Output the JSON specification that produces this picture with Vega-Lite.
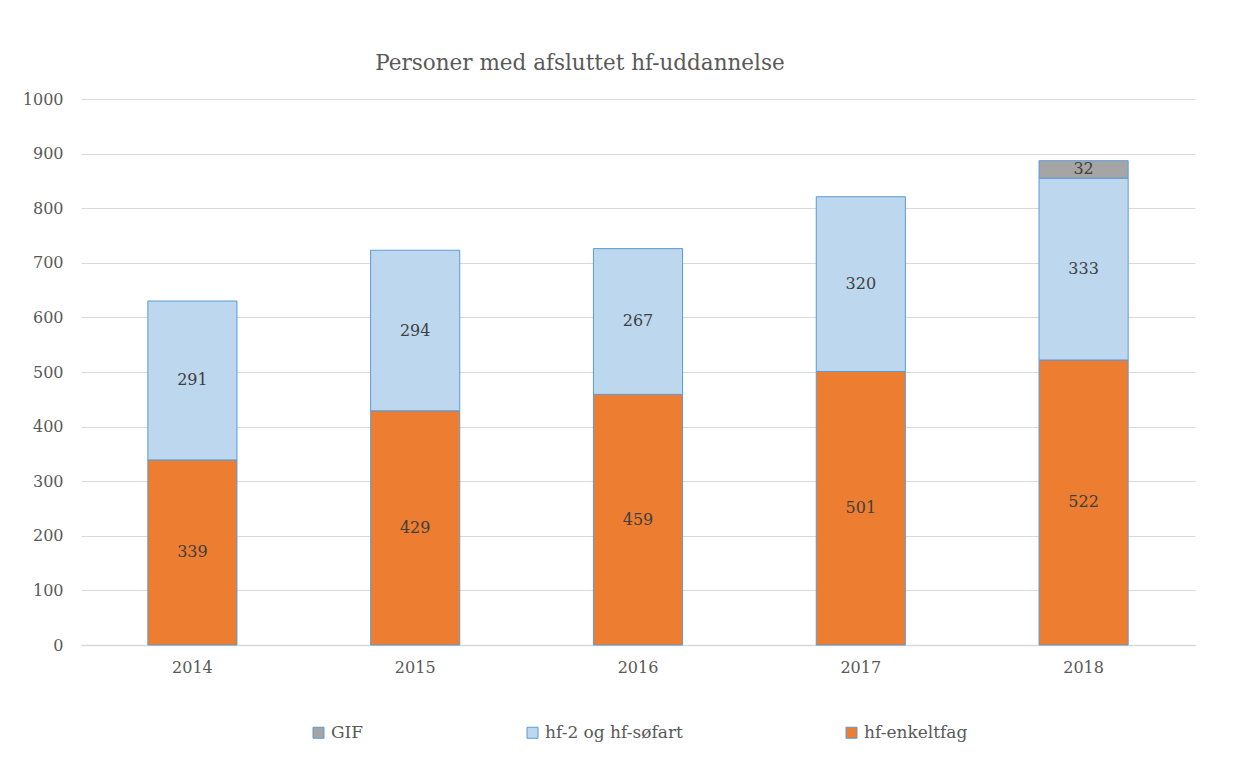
{
  "$schema": "https://vega.github.io/schema/vega-lite/v6.json",
  "autosize": "none",
  "width": 1114,
  "height": 546,
  "padding": {"left": 81, "top": 99, "right": 51, "bottom": 124},
  "background": "white",
  "title": {
    "text": "Personer med afsluttet hf-uddannelse",
    "font": "DejaVu Serif",
    "fontSize": 21.5,
    "fontWeight": "normal",
    "color": "#595959",
    "dx": -58,
    "offset": 17
  },
  "data": {
    "values": [
      {"year": "2014", "series": "hf-enkeltfag", "ord": 1, "value": 339},
      {"year": "2014", "series": "hf-2 og hf-søfart", "ord": 2, "value": 291},
      {"year": "2015", "series": "hf-enkeltfag", "ord": 1, "value": 429},
      {"year": "2015", "series": "hf-2 og hf-søfart", "ord": 2, "value": 294},
      {"year": "2016", "series": "hf-enkeltfag", "ord": 1, "value": 459},
      {"year": "2016", "series": "hf-2 og hf-søfart", "ord": 2, "value": 267},
      {"year": "2017", "series": "hf-enkeltfag", "ord": 1, "value": 501},
      {"year": "2017", "series": "hf-2 og hf-søfart", "ord": 2, "value": 320},
      {"year": "2018", "series": "hf-enkeltfag", "ord": 1, "value": 522},
      {"year": "2018", "series": "hf-2 og hf-søfart", "ord": 2, "value": 333},
      {"year": "2018", "series": "GIF", "ord": 3, "value": 32}
    ]
  },
  "transform": [
    {"stack": "value", "groupby": ["year"], "sort": [{"field": "ord", "order": "ascending"}], "as": ["v0", "v1"]},
    {"calculate": "(datum.v0 + datum.v1) / 2", "as": "mid"}
  ],
  "encoding": {
    "x": {
      "field": "year",
      "type": "nominal",
      "scale": {"paddingInner": 0.6, "paddingOuter": 0.3},
      "axis": {
        "title": null,
        "labelAngle": 0,
        "labelFont": "DejaVu Serif",
        "labelFontSize": 16,
        "labelColor": "#595959",
        "labelPadding": 14,
        "ticks": false,
        "domainColor": "#d9d9d9",
        "domainWidth": 1.5
      }
    }
  },
  "layer": [
    {
      "mark": {"type": "bar", "stroke": "#5B9BD5", "strokeWidth": 1},
      "encoding": {
        "y": {
          "field": "v1",
          "type": "quantitative",
          "scale": {"domain": [0, 1000]},
          "axis": {
            "title": null,
            "format": "d",
            "values": [0, 100, 200, 300, 400, 500, 600, 700, 800, 900, 1000],
            "labelFont": "DejaVu Serif",
            "labelFontSize": 16,
            "labelColor": "#595959",
            "labelPadding": 18,
            "ticks": false,
            "domain": false,
            "gridColor": "#d9d9d9",
            "gridWidth": 1
          }
        },
        "y2": {"field": "v0"},
        "color": {
          "field": "series",
          "type": "nominal",
          "scale": {
            "domain": ["GIF", "hf-2 og hf-søfart", "hf-enkeltfag"],
            "range": ["#A5A5A5", "#BDD7EE", "#ED7D31"]
          },
          "legend": {
            "title": null,
            "orient": "none",
            "direction": "horizontal",
            "legendX": 229,
            "legendY": 625,
            "symbolType": "square",
            "symbolSize": 121,
            "symbolStrokeColor": "#5B9BD5",
            "symbolStrokeWidth": 1,
            "symbolOpacity": 1,
            "labelFont": "DejaVu Serif",
            "labelFontSize": 17,
            "labelColor": "#595959",
            "labelOffset": 4,
            "columnPadding": 160
          }
        }
      }
    },
    {
      "mark": {"type": "text", "font": "DejaVu Serif", "fontSize": 16, "color": "#404040", "baseline": "middle"},
      "encoding": {
        "y": {"field": "mid", "type": "quantitative"},
        "text": {"field": "value", "type": "quantitative"}
      }
    }
  ],
  "config": {"view": {"stroke": null}}
}
